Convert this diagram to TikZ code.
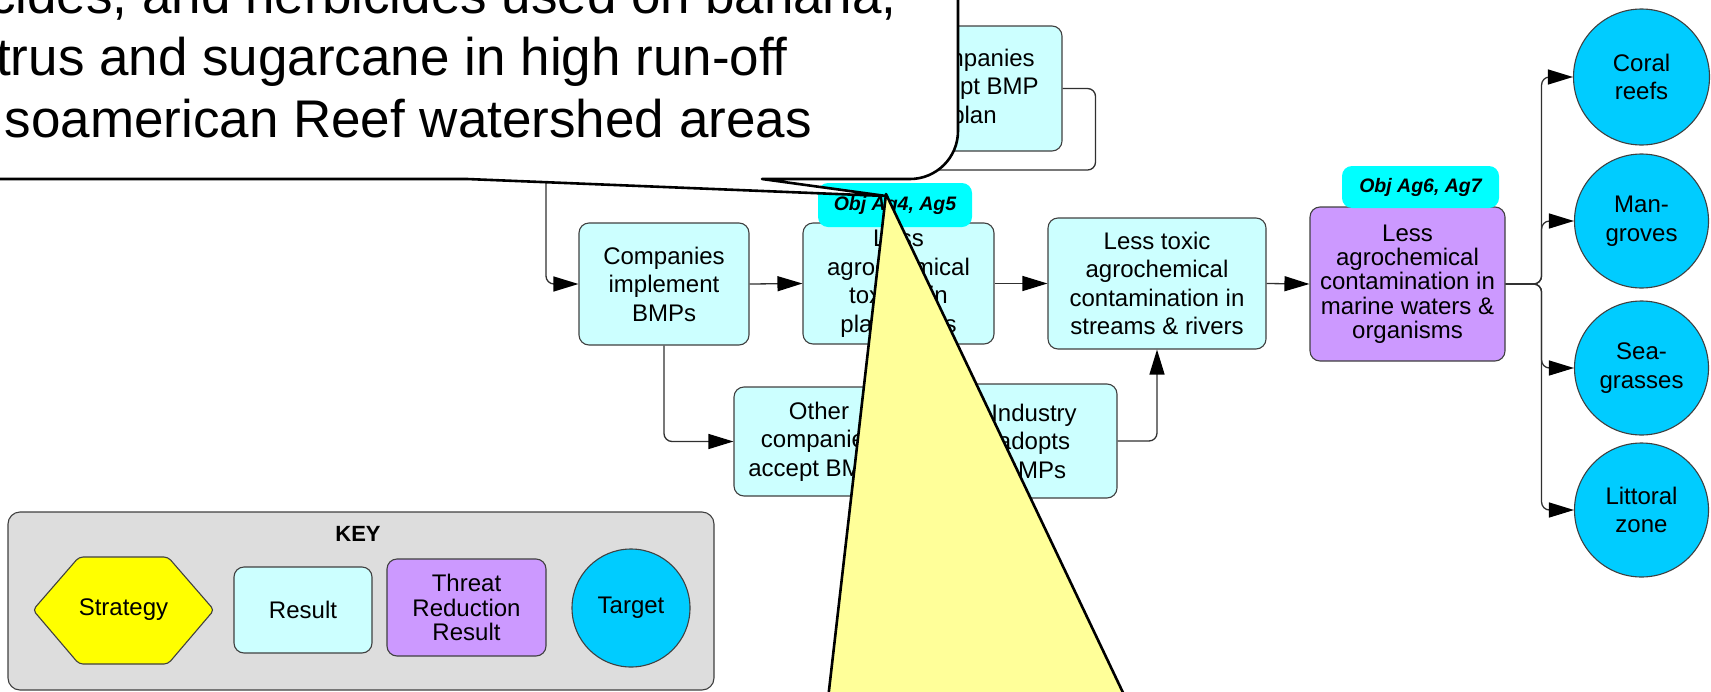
\documentclass[tikz,border=0pt]{standalone}
\usepackage{fontspec}
\setmainfont{Liberation Sans}
\usetikzlibrary{arrows.meta}

\definecolor{resultfill}{HTML}{CCFFFF}
\definecolor{threatfill}{HTML}{CC99FF}
\definecolor{targetfill}{HTML}{00CCFF}
\definecolor{objfill}{HTML}{00FFFF}
\definecolor{keyfill}{HTML}{DDDDDD}
\definecolor{strategyfill}{HTML}{FFFF00}
\definecolor{calloutfill}{HTML}{FFFF99}
\definecolor{edgegray}{HTML}{404040}
\definecolor{wiregray}{HTML}{303030}

\newcommand\boxfnt{\fontsize{24}{28.5}\selectfont}
\newcommand\tightfnt{\fontsize{24}{24.3}\selectfont}
\newcommand\objfnt{\fontsize{19.5}{22}\selectfont\bfseries\itshape}
\newcommand\keyfnt{\fontsize{22}{26}\selectfont\bfseries}
\newcommand\bigfnt{\fontsize{53}{62}\selectfont}

\tikzset{
  base/.style={inner sep=0pt, align=center, line width=1.1pt, draw=edgegray},
  result/.style={base, fill=resultfill, rounded corners=10pt, font=\boxfnt},
  threat/.style={base, fill=threatfill, rounded corners=10pt, font=\tightfnt},
  target/.style={base, circle, fill=targetfill, font=\boxfnt},
  objlabel/.style={inner sep=0pt, fill=objfill, rounded corners=10pt, font=\objfnt},
  wire/.style={draw=wiregray, line width=1.3pt, rounded corners=8pt,
    -{Triangle[length=25pt,width=15pt,color=black]}},
  bubble/.style={draw=black, fill=white, line width=2.6pt, line join=round},
  pointer/.style={draw=black, fill=calloutfill, line width=2.6pt, line join=round},
  bubbletext/.style={anchor=base east, inner sep=0pt, font=\bigfnt},
}

\begin{document}
\begin{tikzpicture}[x=1pt, y=-1pt]
\useasboundingbox (0,0) rectangle (1711,691);

% ---- results chain ----
\node[result, minimum width=176, minimum height=125] (accept) at (974,88.5)
  {Companies\\accept BMP\\plan};
\node[result, minimum width=170, minimum height=122] (implement) at (664,284)
  {Companies\\implement\\BMPs};
\node[result, minimum width=191, minimum height=121] (lessagro) at (898.5,283.5)
  {Less\\agrochemical\\toxicity in\\plantations};
\node[objlabel, minimum width=154, minimum height=44] (objA) at (895,205)
  {Obj Ag4, Ag5};
\node[result, minimum width=218, minimum height=131] (lesstoxic) at (1157,283.5)
  {Less toxic\\agrochemical\\contamination in\\streams \& rivers};
\node[threat, minimum width=195, minimum height=154] (marine) at (1407.5,284)
  {Less\\agrochemical\\contamination in\\marine waters \&\\organisms};
\node[objlabel, minimum width=157, minimum height=42] (objB) at (1420.5,187)
  {Obj Ag6, Ag7};
\node[result, minimum width=170, minimum height=109] (other) at (819,441.5)
  {Other\\companies\\accept BMPs};
\node[result, minimum width=166, minimum height=114] (industry) at (1034,441)
  {Industry\\adopts\\BMPs};

% ---- targets ----
\node[target, minimum size=136] (coral) at (1641.5,77) {Coral\\reefs};
\node[target, minimum size=134] (mangroves) at (1641.5,221) {Man-\\groves};
\node[target, minimum size=134] (seagrass) at (1641.5,368) {Sea-\\grasses};
\node[target, minimum size=134] (littoral) at (1641.5,510) {Littoral\\zone};

% ---- connectors ----
\coordinate (jog) at (546,170);
\draw[wire] (accept.east) -- ++(33,0) |- (jog) |- (implement.west);
\draw[wire] (implement.east) -- (lessagro.west);
\draw[wire] (lessagro.east) -- (lesstoxic.west);
\draw[wire] (lesstoxic.east) -- (marine.west);
\draw[wire] (implement.south) |- (other.west);
\draw[wire] (industry.east) -| (lesstoxic.south);
\draw[wire] (marine.east) -- ++(36,0) |- (coral.west);
\draw[wire] (marine.east) -- ++(36,0) |- (mangroves.west);
\draw[wire] (marine.east) -- ++(36,0) |- (seagrass.west);
\draw[wire] (marine.east) -- ++(36,0) |- (littoral.west);

% ---- key ----
\node[base, fill=keyfill, rounded corners=12pt, minimum width=706, minimum height=178]
  (keybox) at (361,601) {};
\node[font=\keyfnt, inner sep=0pt] (keytitle) at (358,534) {KEY};
\draw[base, fill=strategyfill, rounded corners=4pt]
  (33,610) -- (79,557) -- (168,557) -- (214,610) -- (168,664) -- (79,664) -- cycle;
\node[font=\boxfnt, inner sep=0pt] (keystrategy) at (123.5,610) {Strategy};
\node[result, minimum width=138, minimum height=86] (keyresult) at (303,610) {Result};
\node[threat, minimum width=159, minimum height=97] (keythreat) at (466.5,607.5)
  {Threat\\Reduction\\Result};
\node[target, minimum size=118] (keytarget) at (631,608) {Target};

% ---- white speech bubble ----
\draw[bubble] (-100,-100) -- (-100,179) -- (467,179) -- (886,196) -- (762,179)
  -- (910,179) .. controls (936.5,179) and (958,157.5) .. (958,131)
  -- (958,-100) -- cycle;
\node[bubbletext] (callA) at (897,13) {cides, and herbicides used on banana,};
\node[bubbletext] (callB) at (788,75) {trus and sugarcane in high run-off};
\node[bubbletext] (callC) at (812,137) {soamerican Reef watershed areas};

% ---- yellow callout pointer ----
\draw[pointer] (886,194) -- (1155,760) -- (821,760) -- cycle;
\end{tikzpicture}
\end{document}
